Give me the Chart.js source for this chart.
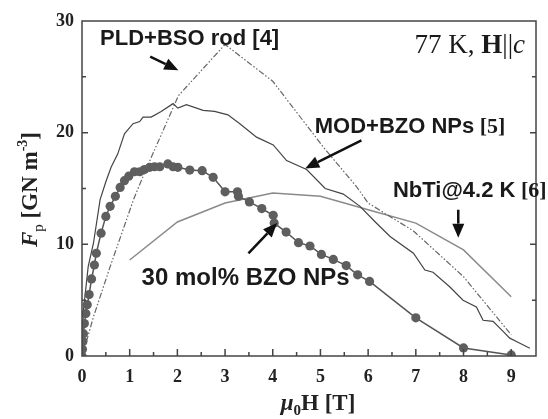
<!DOCTYPE html>
<html>
<head>
<meta charset="utf-8">
<script src="https://cdn.jsdelivr.net/npm/chart.js@4.4.0/dist/chart.umd.min.js"></script>
<style>
    html, body { margin: 0; padding: 0; background: #fff; }
    canvas { display: block; }
</style>
</head>
<body>
<canvas id="graph" width="548" height="419"></canvas>
<script>
// pinning force vs field
const fieldBzo = [0, 0.01, 0.02, 0.03, 0.05, 0.08, 0.11, 0.15, 0.2, 0.26, 0.3, 0.4, 0.5, 0.59, 0.7, 0.8,
    0.89, 0.98, 1.1, 1.21, 1.31, 1.42, 1.52, 1.63, 1.8, 1.91, 2.01, 2.26, 2.52, 2.75, 3.0, 3.26, 3.28,
    3.51, 3.77, 4.01, 4.03, 4.28, 4.54, 4.78, 5.02, 5.27, 5.54, 5.78, 6.03, 7.0, 8.0, 9.0];
const fpBzo = [0, 0.6, 1.3, 2.0, 2.9, 3.8, 4.6, 5.5, 6.9, 8.15, 9.2, 11.0, 12.5, 13.4, 14.3, 15.1,
    15.7, 16.1, 16.5, 16.5, 16.7, 16.9, 16.95, 16.95, 17.2, 16.95, 16.9, 16.65, 16.6, 16.0, 14.7, 14.7, 14.3,
    13.8, 13.2, 12.6, 11.9, 11.1, 10.15, 9.85, 9.1, 8.65, 8.1, 7.27, 6.68, 3.42, 0.72, 0.1];

const fieldMod = [0, 0.03, 0.13, 0.24, 0.38, 0.5, 0.61, 0.75, 0.89, 1.07, 1.21, 1.28, 1.45, 1.66, 1.91,
    2.01, 2.19, 2.54, 2.78, 3.06, 3.31, 3.66, 4.01, 4.29, 4.71, 5.1, 5.48, 5.83, 6.15, 6.46, 6.95, 7.19,
    7.36, 7.71, 7.99, 8.27, 8.41, 8.62, 8.83, 8.97, 9.11, 9.39];
const fpMod = [0, 4.1, 8.0, 10.1, 14.0, 15.6, 16.9, 18.1, 19.9, 20.8, 21.0, 21.4, 21.4, 21.9, 22.6,
    22.2, 22.5, 22.0, 21.9, 21.6, 20.8, 19.6, 18.9, 17.5, 16.7, 15.0, 14.5, 13.4, 12.0, 10.7, 9.2, 7.7,
    7.5, 6.2, 5.0, 4.4, 3.2, 3.1, 2.2, 1.6, 1.3, 0.7];

const fieldPld = [0, 0.06, 0.24, 0.59, 1.08, 1.31, 2.02, 3.0, 4.0, 5.1, 5.75, 6.0, 6.95, 8.0, 9.0];
const fpPld = [0, 0.8, 3.5, 8.0, 14.0, 16.4, 23.3, 27.9, 24.6, 18.5, 15.2, 13.7, 11.2, 7.1, 1.9];

const fieldNbti = [1, 2, 3, 4, 5, 6, 7, 8, 9];
const fpNbti = [8.6, 12.0, 13.7, 14.6, 14.3, 13.1, 11.9, 9.5, 5.3];

const xTicks = [0, 1, 2, 3, 4, 5, 6, 7, 8, 9];
const yTicks = [0, 10, 20, 30];

// annotation labels (data units: left / baseline) and arrows (from -> to)
const noteLabels = ['PLD+BSO rod', 'MOD+BZO NPs', 'NbTi@4.2 K', '30 mol% BZO NPs'];
const noteRefs = [' [4]', ' [5]', ' [6]', ''];
const noteSizes = [22, 22, 22, 24];
const noteX = [0.38, 4.88, 6.52, 1.25];
const noteY = [27.85, 19.96, 14.26, 6.36];
const arrowFrom = [[1.43, 26.8], [5.86, 19.3], [7.89, 13.1], [3.49, 9.2]];
const arrowTo = [[2.02, 25.6], [4.68, 16.8], [7.89, 10.6], [4.09, 11.9]];

function pts(xs, ys) {
    return xs.map(function (x, i) { return {x: x, y: ys[i]}; });
}

function drawRich(ctx, parts, x, y, align) {
    let w = 0;
    parts.forEach(function (p) { ctx.font = p.font; w += ctx.measureText(p.text).width; });
    let cx = align === 'center' ? x - w / 2 : (align === 'right' ? x - w : x);
    parts.forEach(function (p) {
        ctx.font = p.font;
        ctx.fillText(p.text, cx, y + (p.dy || 0));
        cx += ctx.measureText(p.text).width;
    });
}

function drawArrow(ctx, x1, y1, x2, y2) {
    let ang = Math.atan2(y2 - y1, x2 - x1), head = 14, half = 6;
    let bx = x2 - head * Math.cos(ang), by = y2 - head * Math.sin(ang);
    ctx.beginPath();
    ctx.moveTo(x1, y1);
    ctx.lineTo(bx, by);
    ctx.stroke();
    ctx.beginPath();
    ctx.moveTo(x2, y2);
    ctx.lineTo(bx + half * Math.sin(ang), by - half * Math.cos(ang));
    ctx.lineTo(bx - half * Math.sin(ang), by + half * Math.cos(ang));
    ctx.closePath();
    ctx.fill();
}

const serif = 'Liberation Serif', sans = 'Liberation Sans';

const decor = {
    id: 'decor',
    afterDatasetsDraw(chart) {
        const ctx = chart.ctx, a = chart.chartArea, xs = chart.scales.x, ys = chart.scales.y;
        ctx.save();

        // frame + inward ticks
        ctx.strokeStyle = '#444';
        ctx.lineWidth = 1.5;
        ctx.strokeRect(a.left, a.top, a.right - a.left, a.bottom - a.top);
        ctx.beginPath();
        for (let v = 0.5; v <= 9; v += 0.5) {
            let px = xs.getPixelForValue(v), len = v % 1 === 0 ? 7 : 4;
            ctx.moveTo(px, a.bottom);
            ctx.lineTo(px, a.bottom - len);
        }
        for (let v = 5; v < 30; v += 5) {
            let py = ys.getPixelForValue(v), len = v % 10 === 0 ? 6 : 4;
            ctx.moveTo(a.left, py);
            ctx.lineTo(a.left + len, py);
            ctx.moveTo(a.right, py);
            ctx.lineTo(a.right - len, py);
        }
        ctx.stroke();

        // axis titles
        ctx.fillStyle = '#222';
        ctx.textBaseline = 'alphabetic';
        drawRich(ctx, [
            {text: '\u03bc', font: 'italic bold 23px ' + serif},
            {text: '0', font: 'bold 15px ' + serif, dy: 5},
            {text: 'H [T]', font: 'bold 23px ' + serif}
        ], (a.left + a.right) / 2 + 9, 410, 'center');

        ctx.save();
        ctx.translate(37, (a.top + a.bottom) / 2 + 1);
        ctx.rotate(-Math.PI / 2);
        drawRich(ctx, [
            {text: 'F', font: 'italic bold 23px ' + serif},
            {text: 'p', font: '15px ' + serif, dy: 6},
            {text: ' [GN m', font: 'bold 23px ' + serif},
            {text: '-3', font: 'bold 14px ' + serif, dy: -10},
            {text: ']', font: 'bold 23px ' + serif}
        ], 0, 0, 'center');
        ctx.restore();

        // condition label
        ctx.fillStyle = '#1a1a1a';
        drawRich(ctx, [
            {text: '77 K, ', font: '27px ' + serif},
            {text: 'H', font: 'bold 27px ' + serif},
            {text: '||', font: '27px ' + serif},
            {text: 'c', font: 'italic 27px ' + serif}
        ], xs.getPixelForValue(9.29), ys.getPixelForValue(27.1), 'right');

        // annotations
        noteLabels.forEach(function (txt, i) {
            let size = noteSizes[i];
            let parts = [{text: txt, font: 'bold ' + size + 'px ' + sans}];
            if (noteRefs[i])
                parts.push({text: noteRefs[i], font: 'bold ' + size + 'px ' + (i === 0 ? sans : serif)});
            drawRich(ctx, parts, xs.getPixelForValue(noteX[i]), ys.getPixelForValue(noteY[i]), 'left');
        });
        ctx.strokeStyle = '#111';
        ctx.fillStyle = '#111';
        ctx.lineWidth = 2.5;
        arrowFrom.forEach(function (f, i) {
            drawArrow(ctx, xs.getPixelForValue(f[0]), ys.getPixelForValue(f[1]),
                xs.getPixelForValue(arrowTo[i][0]), ys.getPixelForValue(arrowTo[i][1]));
        });
        ctx.restore();
    }
};

const tickFont = {family: serif, weight: 'bold', size: 18};

new Chart(document.getElementById('graph').getContext('2d'), {
    type: 'scatter',
    data: {
        datasets: [
            {
                label: '30 mol% BZO NPs',
                data: pts(fieldBzo, fpBzo),
                showLine: true,
                borderColor: '#555',
                borderWidth: 1.5,
                backgroundColor: '#5e5e5e',
                pointBorderColor: '#5e5e5e',
                pointRadius: 4.6,
                pointBorderWidth: 0,
                clip: 0
            },
            {
                label: 'MOD+BZO NPs',
                data: pts(fieldMod, fpMod),
                showLine: true,
                borderColor: '#444',
                borderWidth: 1.2,
                pointRadius: 0,
                clip: 0
            },
            {
                label: 'PLD+BSO rod',
                data: pts(fieldPld, fpPld),
                showLine: true,
                borderColor: '#666',
                borderWidth: 1.2,
                borderDash: [6, 2, 1.5, 2, 1.5, 2],
                pointRadius: 0,
                clip: 0
            },
            {
                label: 'NbTi@4.2 K',
                data: pts(fieldNbti, fpNbti),
                showLine: true,
                borderColor: '#8a8a8a',
                borderWidth: 1.5,
                pointRadius: 0,
                clip: 0
            }
        ]
    },
    options: {
        responsive: false,
        animation: false,
        layout: {padding: {left: 0, right: 12, top: 21, bottom: 0}},
        plugins: {legend: {display: false}, tooltip: {enabled: false}},
        scales: {
            x: {
                type: 'linear',
                min: 0,
                max: 9.52,
                grid: {display: false, drawTicks: false},
                border: {display: false},
                afterFit: function (s) { s.height = 63; },
                afterBuildTicks: function (s) { s.ticks = xTicks.map(function (v) { return {value: v}; }); },
                ticks: {font: tickFont, color: '#222', padding: 11, maxRotation: 0}
            },
            y: {
                type: 'linear',
                min: 0,
                max: 30,
                grid: {display: false, drawTicks: false},
                border: {display: false},
                afterFit: function (s) { s.width = 82; },
                afterBuildTicks: function (s) { s.ticks = yTicks.map(function (v) { return {value: v}; }); },
                ticks: {font: tickFont, color: '#222', padding: 8}
            }
        }
    },
    plugins: [decor]
});
</script>
</body>
</html>
